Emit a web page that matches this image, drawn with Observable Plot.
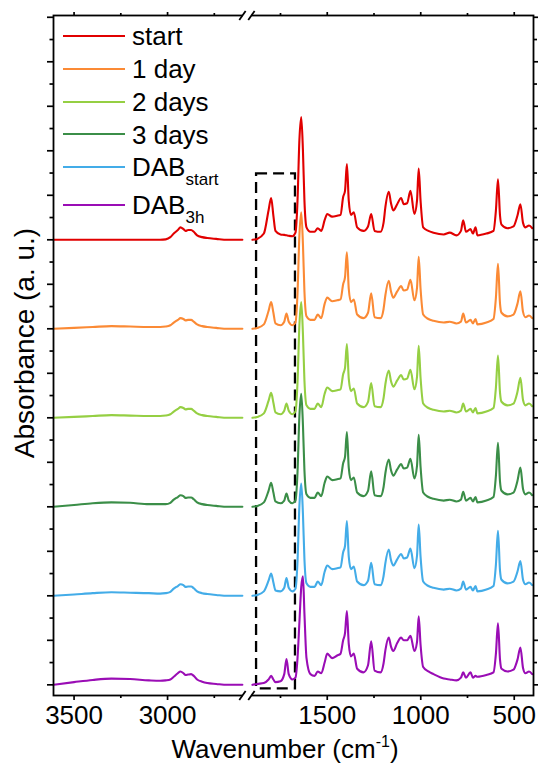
<!DOCTYPE html>
<html>
<head>
<meta charset="utf-8">
<script src="https://cdn.jsdelivr.net/npm/d3@7"></script>
<script src="https://cdn.jsdelivr.net/npm/@observablehq/plot@0.6"></script>
<style>
  body { margin: 0; background: #fff; font-family: "Liberation Sans", Arial, sans-serif; }
  #chart { position: relative; width: 538px; height: 767px; }
  .legend-row { position: absolute; left: 63px; height: 30px; white-space: nowrap; }
  .legend-row .swatch { position: absolute; left: 0; top: 13.5px; width: 62px; height: 2.4px; }
  .legend-row .name { position: absolute; left: 69px; top: 0; font-size: 26px; line-height: 30px; color: #000; }
  .legend-row sub { font-size: 17px; vertical-align: baseline; position: relative; top: 9px; }
</style>
</head>
<body>
<div id="chart"></div>
<script>
// FTIR spectra, stacked with a constant offset; wavenumbers in cm-1.
const wnLeft = [3610, 3500, 3400, 3300, 3200, 3100, 3040, 3010, 2985, 2967, 2945, 2931, 2915, 2904, 2890, 2874, 2860, 2842, 2815, 2788, 2740, 2680, 2600];
const wnRight = [1900, 1875, 1839, 1814, 1800, 1788, 1777, 1750, 1730, 1718,
  1706, 1686, 1670, 1659, 1649, 1639, 1630, 1622, 1611, 1590,
  1568, 1551, 1532, 1514, 1500, 1474, 1447, 1429, 1415, 1405,
  1395, 1385, 1373, 1358, 1340, 1306, 1282, 1265, 1247, 1215,
  1199, 1189, 1171, 1159, 1147, 1126, 1105, 1091, 1073, 1055,
  1034, 1020, 1011, 1001, 987, 959, 932, 877, 845, 809,
  785, 773, 758, 734, 721, 707, 697, 649, 611, 598,
  587, 576, 568, 536, 504, 483, 467, 453, 440, 421, 404];

const seriesNames = ["start", "1 day", "2 days", "3 days", "DAB_start", "DAB_3h"];
const seriesColors = ["#e10000", "#fb8a35", "#95cf43", "#3b8e48", "#43ace8", "#9a0db5"];
const seriesOffsets = [5, 4, 3, 2, 1, 0];

// absorbance (a. u.), before offsetting
const startLeft = [0, 0, 0, 0, 0, 0, 0, .005, .03, .07, .11, .14, .12, .10, .11, .11, .09, .05, .03, .02, .01, 0, 0];
const day1Left = [0, .01, .02, .03, .025, .02, .02, .025, .04, .07, .10, .12, .11, .095, .10, .10, .08, .05, .03, .02, .01, 0, 0];
const day2Left = [0, .01, .02, .03, .025, .02, .02, .025, .04, .07, .10, .12, .11, .095, .10, .10, .08, .05, .03, .02, .01, 0, 0];
const day3Left = [0, .02, .04, .05, .045, .03, .03, .03, .045, .08, .11, .13, .12, .10, .105, .105, .085, .05, .03, .02, .01, 0, 0];
const dabStartLeft = [0, .015, .03, .04, .035, .03, .025, .03, .045, .08, .11, .13, .12, .10, .105, .105, .085, .05, .03, .02, .01, 0, 0];
const dab3hLeft = [0, .03, .055, .07, .065, .05, .045, .05, .06, .09, .13, .15, .13, .11, .115, .12, .10, .06, .035, .02, .01, 0, 0];

const startRight = [0, .01, .07, .33, .47, .27, .10, .06, .055, .05,
  .045, .04, .08, .44, 1.12, 1.38, 1.00, .44, .14, .09,
  .09, .13, .10, .22, .29, .26, .27, .28, .48, .55,
  .85, .44, .28, .31, .14, .10, .15, .29, .10, .09,
  .19, .37, .54, .41, .33, .40, .47, .40, .41, .55,
  .29, .44, .80, .44, .14, .10, .08, .06, .08, .05,
  .10, .22, .09, .12, .07, .14, .05, .07, .10, .33,
  .68, .27, .17, .13, .15, .27, .40, .19, .14, .16, .13];
const day1Right = [0, .01, .05, .20, .30, .18, .06, .04, .08, .17,
  .08, .04, .07, .40, 1.05, 1.31, .95, .42, .14, .10,
  .10, .16, .12, .28, .35, .31, .32, .33, .50, .58,
  .86, .45, .30, .33, .16, .12, .18, .40, .13, .12,
  .22, .38, .54, .42, .35, .42, .48, .43, .44, .55,
  .32, .46, .81, .45, .16, .11, .09, .07, .08, .06,
  .08, .17, .07, .10, .06, .11, .05, .07, .11, .35,
  .73, .28, .18, .14, .16, .28, .42, .19, .13, .15, .12];
const day2Right = [0, .01, .05, .19, .28, .17, .06, .04, .08, .16,
  .08, .04, .07, .40, 1.04, 1.30, .94, .42, .14, .10,
  .10, .16, .12, .27, .34, .30, .31, .32, .49, .56,
  .83, .44, .30, .33, .16, .12, .18, .39, .13, .12,
  .22, .38, .53, .41, .35, .42, .48, .43, .44, .54,
  .32, .46, .81, .45, .16, .11, .09, .07, .08, .06,
  .08, .16, .07, .10, .06, .11, .05, .07, .11, .34,
  .70, .28, .18, .14, .16, .29, .45, .20, .14, .16, .13];
const day3Right = [0, .01, .05, .18, .27, .16, .06, .04, .07, .15,
  .07, .04, .07, .39, 1.02, 1.27, .92, .41, .14, .10,
  .10, .16, .12, .27, .34, .30, .31, .32, .49, .56,
  .84, .44, .30, .33, .16, .12, .18, .40, .13, .12,
  .22, .38, .53, .41, .35, .42, .48, .43, .44, .54,
  .32, .46, .81, .45, .16, .11, .09, .07, .08, .06,
  .08, .17, .07, .10, .06, .11, .05, .07, .11, .35,
  .72, .28, .18, .14, .16, .29, .44, .20, .14, .16, .13];
const dabStartRight = [0, .01, .05, .17, .25, .15, .06, .05, .09, .20,
  .09, .05, .08, .39, 1.01, 1.26, .92, .41, .14, .10,
  .10, .16, .12, .27, .34, .30, .31, .32, .49, .56,
  .84, .44, .30, .33, .16, .12, .17, .37, .13, .12,
  .22, .37, .52, .40, .34, .41, .47, .42, .43, .53,
  .31, .45, .80, .44, .16, .11, .09, .07, .08, .06,
  .08, .16, .07, .10, .06, .11, .05, .07, .11, .35,
  .73, .28, .18, .14, .16, .27, .39, .18, .13, .15, .12];
const dab3hRight = [0, .01, .02, .06, .10, .06, .03, .04, .12, .29,
  .12, .06, .08, .30, .70, 1.10, 1.22, .80, .30, .12,
  .10, .15, .13, .25, .35, .30, .33, .35, .50, .58,
  .83, .46, .32, .35, .18, .14, .22, .49, .16, .14,
  .24, .39, .53, .43, .38, .47, .53, .50, .50, .55,
  .38, .48, .77, .45, .20, .15, .12, .07, .06, .05,
  .08, .14, .08, .14, .08, .10, .09, .11, .14, .35,
  .69, .28, .18, .15, .17, .28, .42, .19, .13, .15, .12];

const leftValues = [startLeft, day1Left, day2Left, day3Left, dabStartLeft, dab3hLeft];
const rightValues = [startRight, day1Right, day2Right, day3Right, dabStartRight, dab3hRight];

const majorTicks = [3500, 3000, 1500, 1000, 500];
const minorTicks = [3250, 2750, 1750, 1250, 750];
const boxRange = [1878, 1670];   // highlighted carbonyl region

// Broken wavenumber axis: the 3610–2580 and 1925–397 cm-1 windows are laid
// end to end on one linear position scale (decreasing wavenumber to the right).
const leftStart = 3610, rightShift = 2964;
const axisPos = wn => wn > 2300 ? leftStart - wn : rightShift - wn;
const breakAt = (axisPos(2580) + axisPos(1925)) / 2;
const yMin = -0.12, yMax = 7.52;

const rows = [];
seriesNames.forEach((name, i) => {
  wnLeft.forEach((wn, j) => rows.push({name, key: name + "-L", wn, y: leftValues[i][j] + seriesOffsets[i]}));
  wnRight.forEach((wn, j) => rows.push({name, key: name + "-R", wn, y: rightValues[i][j] + seriesOffsets[i]}));
});

const yMajor = d3.range(0, 7.51, 0.5);
const yMinor = d3.range(0.25, 7.5, 0.5);
const axisStroke = {stroke: "#000", strokeWidth: 1.7};
const blank = () => "";

// break symbol "//" on the top and bottom axes
const breakSlashes = [yMin, yMax].flatMap(y => [-24, 24].map(d => ({x1: breakAt + d - 17, x2: breakAt + d + 17, y1: y - 0.05, y2: y + 0.05})));
const breakGaps = [yMin, yMax].map(y => ({x1: breakAt - 24, x2: breakAt + 24, y}));

const plot = Plot.plot({
  width: 538,
  height: 767,
  marginLeft: 53,
  marginRight: 5,
  marginTop: 15,
  marginBottom: 72,
  style: {fontFamily: "Liberation Sans, Arial, sans-serif", color: "#000", background: "#fff", overflow: "visible"},
  x: {type: "linear", domain: [0, axisPos(397)]},
  y: {domain: [yMin, yMax]},
  color: {domain: seriesNames, range: seriesColors},
  marks: [
    Plot.rect([{x1: axisPos(boxRange[0]), x2: axisPos(boxRange[1]), y1: -0.045, y2: 5.74}],
      {x1: "x1", x2: "x2", y1: "y1", y2: "y2", fill: "none", stroke: "#000", strokeWidth: 2.3, strokeDasharray: "11,6"}),
    Plot.line(rows, {x: d => axisPos(d.wn), y: "y", z: "key", stroke: "name", strokeWidth: 2.1, curve: "monotone-x"}),
    Plot.frame({stroke: "#000", strokeWidth: 1.8}),
    Plot.axisX({anchor: "bottom", ticks: majorTicks.map(axisPos), tickFormat: u => String(majorTicks[majorTicks.map(axisPos).indexOf(u)]),
      tickSize: 5, tickPadding: 5, fontSize: 26, label: null, ...axisStroke}),
    Plot.axisX({anchor: "bottom", ticks: minorTicks.map(axisPos), tickFormat: blank, tickSize: 3, label: null, ...axisStroke}),
    Plot.axisX({anchor: "top", ticks: majorTicks.map(axisPos), tickFormat: blank, tickSize: 4, label: null, ...axisStroke}),
    Plot.axisX({anchor: "top", ticks: minorTicks.map(axisPos), tickFormat: blank, tickSize: 3, label: null, ...axisStroke}),
    Plot.axisY({anchor: "left", ticks: yMajor, tickFormat: blank, tickSize: 6, label: null, ...axisStroke}),
    Plot.axisY({anchor: "left", ticks: yMinor, tickFormat: blank, tickSize: 3.5, label: null, ...axisStroke}),
    Plot.axisY({anchor: "right", ticks: yMajor, tickFormat: blank, tickSize: 4, label: null, ...axisStroke}),
    Plot.axisY({anchor: "right", ticks: yMinor, tickFormat: blank, tickSize: 3, label: null, ...axisStroke}),
    Plot.link(breakGaps, {x1: "x1", x2: "x2", y1: "y", y2: "y", stroke: "#fff", strokeWidth: 5}),
    Plot.link(breakSlashes, {x1: "x1", x2: "x2", y1: "y1", y2: "y2", stroke: "#000", strokeWidth: 1.8})
  ]
});

// axis titles with super/subscripts
const svg = d3.select(plot);
const xs = plot.scale("x").range;
const xTitle = svg.append("text")
  .attr("x", (xs[0] + xs[1]) / 2 - 8).attr("y", 758)
  .attr("text-anchor", "middle").attr("font-size", 26).attr("fill", "#000");
xTitle.append("tspan").text("Wavenumber (cm");
xTitle.append("tspan").attr("font-size", 16).attr("dy", -11).text("-1");
xTitle.append("tspan").attr("dy", 11).text(")");

const ys = plot.scale("y").range;
svg.append("text")
  .attr("transform", `translate(34,${(ys[0] + ys[1]) / 2 - 12}) rotate(-90)`)
  .attr("text-anchor", "middle").attr("font-size", 28).attr("fill", "#000")
  .text("Absorbance (a. u.)");

const chart = document.getElementById("chart");
chart.appendChild(plot);

// legend, inside the upper-left corner of the frame
const legendRows = [
  {label: "start", sub: null, top: 36},
  {label: "1 day", sub: null, top: 69},
  {label: "2 days", sub: null, top: 101.7},
  {label: "3 days", sub: null, top: 134.3},
  {label: "DAB", sub: "start", top: 166.7},
  {label: "DAB", sub: "3h", top: 205}
];
legendRows.forEach((r, i) => {
  const row = document.createElement("div");
  row.className = "legend-row";
  row.style.top = (r.top - 14.7) + "px";
  const sw = document.createElement("div");
  sw.className = "swatch";
  sw.style.background = seriesColors[i];
  const name = document.createElement("span");
  name.className = "name";
  name.textContent = r.label;
  if (r.sub) {
    const sub = document.createElement("sub");
    sub.textContent = r.sub;
    name.appendChild(sub);
  }
  row.appendChild(sw);
  row.appendChild(name);
  chart.appendChild(row);
});
</script>
</body>
</html>
